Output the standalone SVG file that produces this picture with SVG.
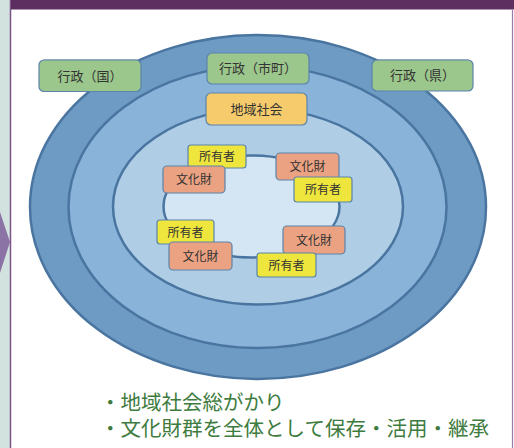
<svg xmlns="http://www.w3.org/2000/svg" width="514" height="448" viewBox="0 0 514 448">
<style>
.ring{stroke:#4a75a0;stroke-width:2.5}
.box{stroke:#5a84ab;stroke-width:1.2}
.g{fill:#9cc78c}
.y{fill:#f6cb6c}
.own{fill:#eee63d}
.cul{fill:#eba282}
.t{font-family:"Noto Sans CJK JP","Noto Sans CJK SC",sans-serif;fill:#333;text-anchor:middle}
.big{font-size:13px}
.sm{font-size:12px}
.bul{font-family:"Noto Sans CJK JP","Noto Sans CJK SC",sans-serif;font-size:20.5px;fill:#3e7b3e}
</style>
<rect x="0" y="0" width="514" height="448" fill="#ffffff"/>
<rect x="0" y="0" width="10" height="448" fill="#d2e3df"/>
<polygon points="0,212 10,242 0,273" fill="#8c73a5"/>
<line x1="10.5" y1="0" x2="10.5" y2="448" stroke="#7e5388" stroke-width="1.5"/>
<rect x="11" y="0" width="503" height="9.5" fill="#5c2f60"/>
<line x1="512.5" y1="10" x2="512.5" y2="448" stroke="#9a7aa8" stroke-width="1.2"/>
<line x1="43" y1="59.5" x2="469" y2="59.5" stroke="#c9d2da" stroke-width="1"/>

<g id="rings">
<ellipse class="ring" cx="258" cy="207" rx="228" ry="172" fill="#6e9bc4" stroke-width="3"/>
<ellipse class="ring" cx="257.5" cy="207" rx="189" ry="141" fill="#89b3d8"/>
<ellipse class="ring" cx="258" cy="206.5" rx="145" ry="98" fill="#afcde5"/>
<ellipse class="ring" cx="251.5" cy="206.5" rx="88" ry="51" fill="#d4e5f3"/>
</g>

<g id="connectors"></g>

<g id="gov-kuni"><rect class="box g" x="39" y="60" width="102" height="31.5" rx="5"/><text class="t big" x="90" y="80.5">行政（国）</text></g>
<g id="gov-shicho"><rect class="box g" x="207" y="53" width="102" height="31" rx="5"/><text class="t big" x="258" y="73">行政（市町）</text></g>
<g id="gov-ken"><rect class="box g" x="372" y="60" width="101" height="31" rx="5"/><text class="t big" x="422.5" y="80">行政（県）</text></g>
<g id="chiiki"><rect class="box y" x="206" y="93" width="101" height="32" rx="5"/><text class="t big" x="256.5" y="113.5">地域社会</text></g>

<g id="owner1"><rect class="box own" x="188" y="145" width="58" height="23" rx="3"/><text class="t sm" x="217" y="161">所有者</text></g>
<g id="bunka1"><rect class="box cul" x="163" y="166" width="62" height="27" rx="4"/><text class="t sm" x="194" y="184">文化財</text></g>

<g id="bunka2"><rect class="box cul" x="276" y="153" width="63" height="27" rx="4"/><text class="t sm" x="307.5" y="171">文化財</text></g>
<g id="owner2"><rect class="box own" x="294" y="177" width="58" height="25" rx="3"/><text class="t sm" x="323" y="194">所有者</text></g>

<g id="owner3"><rect class="box own" x="157" y="220" width="57" height="24" rx="3"/><text class="t sm" x="185.5" y="236.5">所有者</text></g>
<g id="bunka3"><rect class="box cul" x="169" y="242" width="63" height="28" rx="4"/><text class="t sm" x="200.5" y="260.5">文化財</text></g>

<g id="bunka4"><rect class="box cul" x="283" y="226" width="62" height="28" rx="4"/><text class="t sm" x="314" y="244.5">文化財</text></g>
<g id="owner4"><rect class="box own" x="257" y="253" width="59" height="24" rx="3"/><text class="t sm" x="286.5" y="269.5">所有者</text></g>

<text class="bul" x="100" y="410">・地域社会総がかり</text>
<text class="bul" x="100" y="436">・文化財群を全体として保存・活用・継承</text>
</svg>
